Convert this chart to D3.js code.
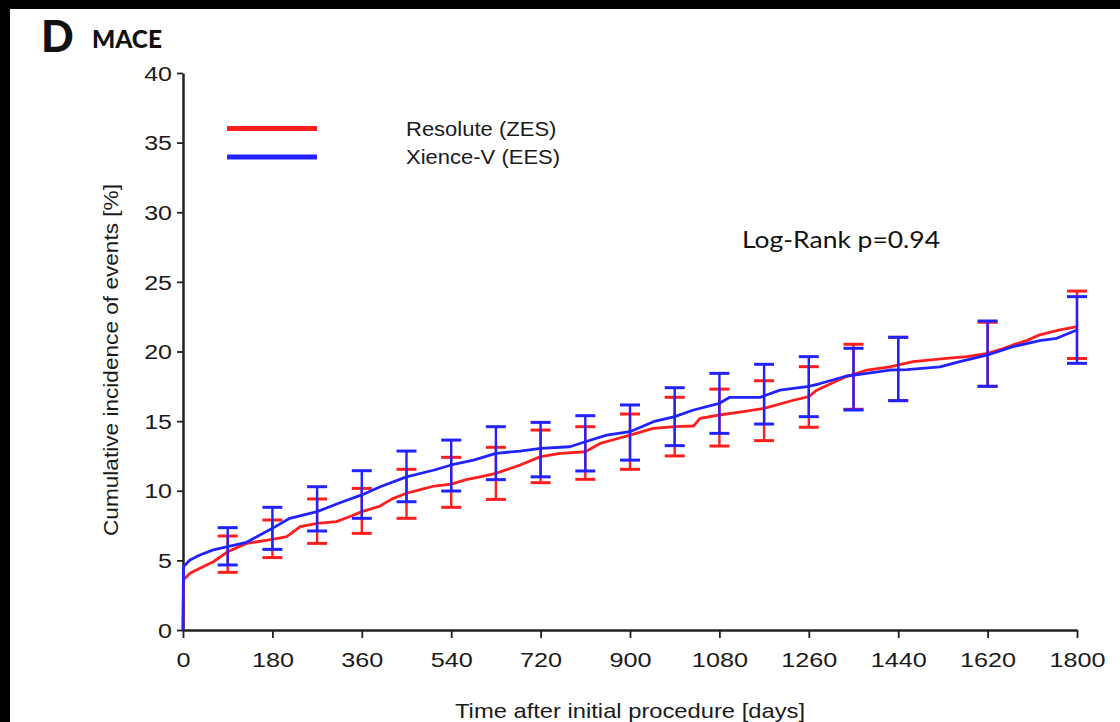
<!DOCTYPE html>
<html><head><meta charset="utf-8">
<script src="https://cdn.jsdelivr.net/npm/d3@7"></script>
<style>body{margin:0;background:#000}svg{display:block}</style>
</head><body>
<svg id="c" width="1120" height="722"></svg>
<script>
// ---------- data ----------
const xTicks = [0,180,360,540,720,900,1080,1260,1440,1620,1800];
const yTicks = [0,5,10,15,20,25,30,35,40];
const seriesNames = ["Resolute (ZES)", "Xience-V (EES)"];

const resoluteCurve = [[0,0],[1,3.6],[14,4.07],[34,4.43],[61,4.9],[90,5.62],[128,6.22],[180,6.51],[209,6.7],[236,7.42],[270,7.66],[309,7.78],[340,8.2],[360,8.5],[397,8.9],[420,9.4],[450,9.82],[480,10.1],[506,10.34],[540,10.48],[570,10.8],[598,11.0],[630,11.25],[679,11.85],[720,12.45],[760,12.69],[810,12.8],[840,13.4],[870,13.7],[900,14.0],[947,14.48],[990,14.6],[1028,14.65],[1041,15.2],[1080,15.44],[1128,15.68],[1170,15.92],[1229,16.5],[1260,16.76],[1275,17.2],[1305,17.7],[1336,18.2],[1377,18.67],[1423,18.9],[1470,19.27],[1537,19.5],[1578,19.63],[1620,19.87],[1650,20.2],[1671,20.47],[1700,20.8],[1725,21.2],[1763,21.54],[1800,21.78]];
const xienceCurve = [[0,0],[1,4.55],[14,5.03],[34,5.39],[61,5.75],[90,5.98],[128,6.3],[155,6.82],[180,7.3],[215,8.02],[270,8.5],[316,9.14],[360,9.7],[397,10.29],[450,11.0],[506,11.49],[540,11.85],[585,12.2],[630,12.69],[679,12.85],[720,13.05],[779,13.16],[810,13.52],[853,14.0],[900,14.24],[947,14.96],[990,15.32],[1028,15.8],[1080,16.28],[1101,16.71],[1162,16.71],[1202,17.23],[1260,17.5],[1283,17.7],[1336,18.24],[1377,18.43],[1423,18.67],[1458,18.7],[1524,18.9],[1564,19.27],[1620,19.75],[1671,20.35],[1725,20.78],[1759,20.95],[1800,21.54]];

// error bars: [day, lower, upper]
const resoluteCI = [[90,4.14,6.75],[180,5.2,7.9],[270,6.22,9.41],[360,6.94,10.17],[450,8.02,11.54],[540,8.81,12.4],[630,9.38,13.12],[720,10.58,14.36],[810,10.82,14.6],[900,11.54,15.51],[990,12.5,16.71],[1080,13.21,17.3],[1170,13.6,17.9],[1260,14.56,18.91],[1350,15.85,20.52],[1440,16.47,21.02],[1620,17.5,22.1],[1800,19.5,24.34]];
const xienceCI = [[90,4.67,7.35],[180,5.79,8.81],[270,7.11,10.29],[360,8.02,11.44],[450,9.21,12.85],[540,9.98,13.64],[630,10.8,14.6],[720,11.0,14.91],[810,11.42,15.39],[900,12.2,16.16],[990,13.24,17.4],[1080,14.12,18.43],[1170,14.79,19.08],[1260,15.32,19.63],[1350,15.8,20.23],[1440,16.47,21.02],[1620,17.5,22.19],[1800,19.15,23.94]];

// ---------- drawing ----------
const svg = d3.select("#c");
svg.append("rect").attr("width",1120).attr("height",722).attr("fill","#000");
svg.append("rect").attr("x",10).attr("y",9).attr("width",1110).attr("height",713).attr("fill","#fff");

const RED = "#ff1e1e", BLUE = "#2222ff";
const x = d3.scaleLinear().domain([0,1800]).range([183,1077]);
const y = d3.scaleLinear().domain([0,40]).range([630,73]);
const ARIAL = "'Liberation Sans', Arial, sans-serif";
const CAL = "Lato, 'Open Sans', sans-serif";

function fit(sel, factor){
  sel.each(function(){
    const w = this.getComputedTextLength();
    d3.select(this).attr("textLength", w*factor).attr("lengthAdjust","spacingAndGlyphs");
  });
}
function fitTo(sel, width){
  sel.attr("textLength", width).attr("lengthAdjust","spacingAndGlyphs");
}

// axes
const xAxis = svg.append("g").attr("transform",`translate(0,${y(0)})`)
  .call(d3.axisBottom(x).tickValues(xTicks).tickFormat(d3.format("d")).tickSize(8).tickPadding(14).tickSizeOuter(0));
const yAxis = svg.append("g").attr("transform",`translate(${x(0)},0)`)
  .call(d3.axisLeft(y).tickValues(yTicks).tickFormat(d3.format("d")).tickSize(6).tickPadding(5).tickSizeOuter(0));
[xAxis,yAxis].forEach(a=>{
  a.select(".domain").attr("stroke","#222").attr("stroke-width",2.5);
  a.selectAll(".tick line").attr("stroke","#222").attr("stroke-width",1.8);
  a.selectAll("text").attr("font-family",ARIAL).attr("fill","#1a1a1a");
});
xAxis.selectAll("text").attr("font-size",21);
yAxis.selectAll("text").attr("font-size",20).attr("dy","0.36em");
fit(xAxis.selectAll("text"),1.2);
fit(yAxis.selectAll("text"),1.25);

// curves
const line = d3.line().x(d=>x(d[0])).y(d=>y(d[1])).curve(d3.curveLinear);
function drawBars(data,color){
  const g = svg.append("g").attr("stroke",color).attr("fill","none");
  g.selectAll("line.v").data(data).join("line").attr("class","v")
    .attr("x1",d=>x(d[0])).attr("x2",d=>x(d[0]))
    .attr("y1",d=>y(d[1])).attr("y2",d=>y(d[2])).attr("stroke-width",2.4);
  g.selectAll("line.lo").data(data).join("line").attr("class","lo")
    .attr("x1",d=>x(d[0])-10).attr("x2",d=>x(d[0])+10)
    .attr("y1",d=>y(d[1])).attr("y2",d=>y(d[1])).attr("stroke-width",3);
  g.selectAll("line.hi").data(data).join("line").attr("class","hi")
    .attr("x1",d=>x(d[0])-10).attr("x2",d=>x(d[0])+10)
    .attr("y1",d=>y(d[2])).attr("y2",d=>y(d[2])).attr("stroke-width",3);
}
svg.append("path").datum(resoluteCurve).attr("d",line).attr("fill","none").attr("stroke",RED).attr("stroke-width",2.8).attr("stroke-linejoin","round");
drawBars(resoluteCI,RED);
svg.append("path").datum(xienceCurve).attr("d",line).attr("fill","none").attr("stroke",BLUE).attr("stroke-width",2.8).attr("stroke-linejoin","round");
drawBars(xienceCI,BLUE);

// legend
const colors=[RED,BLUE];
seriesNames.forEach((n,i)=>{
  const ly = 128.5 + i*28.5;
  svg.append("line").attr("x1",227).attr("x2",317).attr("y1",ly).attr("y2",ly)
    .attr("stroke",colors[i]).attr("stroke-width",5);
  const t = svg.append("text").attr("x",406).attr("y",ly+7).text(n)
    .attr("font-family",ARIAL).attr("font-size",20).attr("fill","#1a1a1a");
  fit(t,1.1);
});

// titles
const xt = svg.append("text").attr("x",630).attr("y",718).attr("text-anchor","middle")
  .text("Time after initial procedure [days]").attr("font-family",ARIAL).attr("font-size",21).attr("fill","#1a1a1a");
const yt = svg.append("text").attr("transform","translate(118,360) rotate(-90)").attr("text-anchor","middle")
  .text("Cumulative incidence of events [%]").attr("font-family",ARIAL).attr("font-size",21).attr("fill","#1a1a1a");
fitTo(xt,350); fitTo(yt,352);

const lr = svg.append("text").attr("x",742).attr("y",248).text("Log-Rank p=0.94")
  .attr("font-family",CAL).attr("font-size",24).attr("fill","#111");
fitTo(lr,198);
svg.append("text").attr("x",41).attr("y",52).text("D")
  .attr("font-family",CAL).attr("font-weight",900).attr("font-size",43).attr("fill","#111");
const mt = svg.append("text").attr("x",92).attr("y",48).text("MACE")
  .attr("font-family",CAL).attr("font-weight",900).attr("font-size",24).attr("fill","#111");
fitTo(mt,70);
</script>
</body></html>
